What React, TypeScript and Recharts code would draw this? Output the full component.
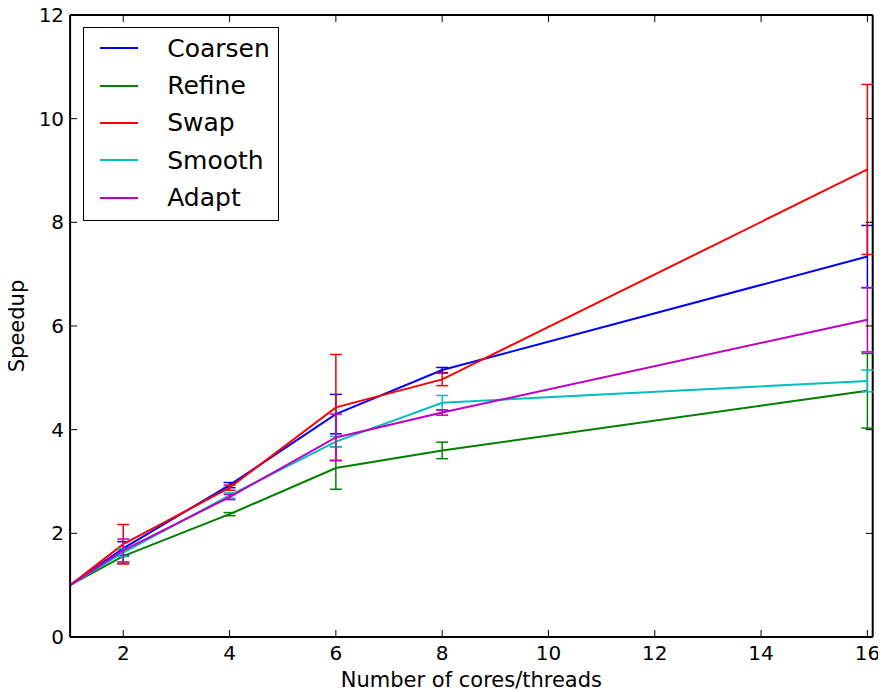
import React from 'react';
import { LineChart, Line, XAxis, YAxis, ErrorBar, Legend, Label, ReferenceLine } from 'recharts';

const cores = [1, 2, 4, 6, 8, 16];
const coarsen = [1.0, 1.71, 2.93, 4.3, 5.15, 7.34];
const coarsenErr = [0, 0.13, 0.05, 0.38, 0.05, 0.6];
const refine = [1.0, 1.56, 2.37, 3.26, 3.6, 4.75];
const refineErr = [0, 0.14, 0.03, 0.41, 0.16, 0.72];
const swap = [1.0, 1.79, 2.88, 4.43, 4.97, 9.02];
const swapErr = [0, 0.38, 0.05, 1.02, 0.12, 1.64];
const smooth = [1.0, 1.63, 2.73, 3.77, 4.52, 4.94];
const smoothErr = [0, 0.08, 0.05, 0.1, 0.14, 0.21];
const adapt = [1.0, 1.67, 2.7, 3.85, 4.33, 6.12];
const adaptErr = [0, 0.22, 0.05, 0.45, 0.05, 0.62];

const xDomain = [1, 16.1];
const yDomain = [0, 12];
const xTicks = [2, 4, 6, 8, 10, 12, 14, 16];
const yTicks = [0, 2, 4, 6, 8, 10, 12];

const seriesNames = ['Coarsen', 'Refine', 'Swap', 'Smooth', 'Adapt'];
const seriesKeys = ['coarsen', 'refine', 'swap', 'smooth', 'adapt'];
const seriesColors = ['#0000ff', '#008000', '#ff0000', '#00bfbf', '#bf00bf'];
const seriesValues = [coarsen, refine, swap, smooth, adapt];
const seriesErrors = [coarsenErr, refineErr, swapErr, smoothErr, adaptErr];

const data = cores.map((c, i) => {
  const row: any = { cores: c };
  seriesKeys.forEach((k, s) => {
    row[k] = seriesValues[s][i];
    row[k + 'Err'] = seriesErrors[s][i];
  });
  return row;
});

const FONT = '"DejaVu Sans", sans-serif';
const TICK_LEN = 7;
const CHART_W = 886;
const CHART_H = 692;
const M_TOP = 15;
const M_RIGHT = 13.3;
const PLOT_TOP = M_TOP;
const PLOT_RIGHT = CHART_W - M_RIGHT;

const BottomTick = (props: any) => {
  const { x, y, payload } = props;
  return (
    <g>
      <line x1={x} y1={y} x2={x} y2={y - TICK_LEN} stroke="#000" strokeWidth={1} />
      <line x1={x} y1={PLOT_TOP} x2={x} y2={PLOT_TOP + TICK_LEN} stroke="#000" strokeWidth={1} />
      <text x={x} y={y + 23} textAnchor="middle" fontSize={20} fontFamily={FONT} fill="#000">
        {payload.value}
      </text>
    </g>
  );
};

const LeftTick = (props: any) => {
  const { x, y, payload } = props;
  return (
    <g>
      <line x1={x} y1={y} x2={x + TICK_LEN} y2={y} stroke="#000" strokeWidth={1} />
      <line x1={PLOT_RIGHT} y1={y} x2={PLOT_RIGHT - TICK_LEN} y2={y} stroke="#000" strokeWidth={1} />
      <text x={x - 6} y={y} dy="0.355em" textAnchor="end" fontSize={20} fontFamily={FONT} fill="#000">
        {payload.value}
      </text>
    </g>
  );
};

const XLabel = (props: any) => {
  const vb = props.viewBox;
  return (
    <text x={vb.x + vb.width / 2} y={vb.y + 49.7} textAnchor="middle" fontSize={21} fontFamily={FONT} fill="#000">
      Number of cores/threads
    </text>
  );
};

const YLabel = (props: any) => {
  const vb = props.viewBox;
  const cx = 23.5;
  const cy = vb.y + vb.height / 2;
  return (
    <text x={cx} y={cy} transform={`rotate(-90 ${cx} ${cy})`} textAnchor="middle" fontSize={21} fontFamily={FONT} fill="#000">
      Speedup
    </text>
  );
};

const LegendBox = () => (
  <div
    style={{
      boxSizing: 'border-box',
      width: 196,
      height: 194,
      border: '1.7px solid #000',
      background: '#fff',
      paddingTop: 1.5,
    }}
  >
    {seriesNames.map((n, i) => (
      <div key={n} style={{ height: 37.3, display: 'flex', alignItems: 'center' }}>
        <div style={{ marginLeft: 16.5, width: 38, height: 2, background: seriesColors[i] }} />
        <div style={{ marginLeft: 29, fontSize: 25, fontFamily: FONT, lineHeight: '37.3px', color: '#000' }}>{n}</div>
      </div>
    ))}
  </div>
);

export default function App() {
  const axisLine = { stroke: '#000', strokeWidth: 2 };
  return (
    <div style={{ marginTop: -8, marginLeft: -8, width: CHART_W, height: CHART_H }}>
      <LineChart width={CHART_W} height={CHART_H} data={data} margin={{ top: M_TOP, right: M_RIGHT, bottom: 5, left: 0 }}>
        <XAxis
          dataKey="cores"
          type="number"
          domain={xDomain}
          allowDataOverflow
          ticks={xTicks}
          interval={0}
          height={50}
          tickSize={0}
          tickMargin={0}
          tick={<BottomTick />}
          axisLine={axisLine}
        >
          <Label content={<XLabel />} />
        </XAxis>
        <YAxis
          type="number"
          domain={yDomain}
          allowDataOverflow
          ticks={yTicks}
          interval={0}
          width={70.1}
          tickSize={0}
          tickMargin={0}
          tick={<LeftTick />}
          axisLine={axisLine}
        >
          <Label content={<YLabel />} />
        </YAxis>
        <ReferenceLine y={yDomain[1]} stroke="#000" strokeWidth={2} ifOverflow="extendDomain" />
        <ReferenceLine x={xDomain[1]} stroke="#000" strokeWidth={2} ifOverflow="extendDomain" />
        <Legend
          layout="vertical"
          align="center"
          verticalAlign="middle"
          content={<LegendBox />}
          wrapperStyle={{ left: 82.7, top: 27.3, width: 196, height: 194, right: 'auto', bottom: 'auto' }}
        />
        {seriesKeys.map((k, i) => (
          <Line
            key={k}
            name={seriesNames[i]}
            dataKey={k}
            stroke={seriesColors[i]}
            strokeWidth={2}
            dot={false}
            activeDot={false}
            isAnimationActive={false}
          >
            <ErrorBar dataKey={k + 'Err'} direction="y" width={6} stroke={seriesColors[i]} strokeWidth={1.5} />
          </Line>
        ))}
      </LineChart>
    </div>
  );
}
